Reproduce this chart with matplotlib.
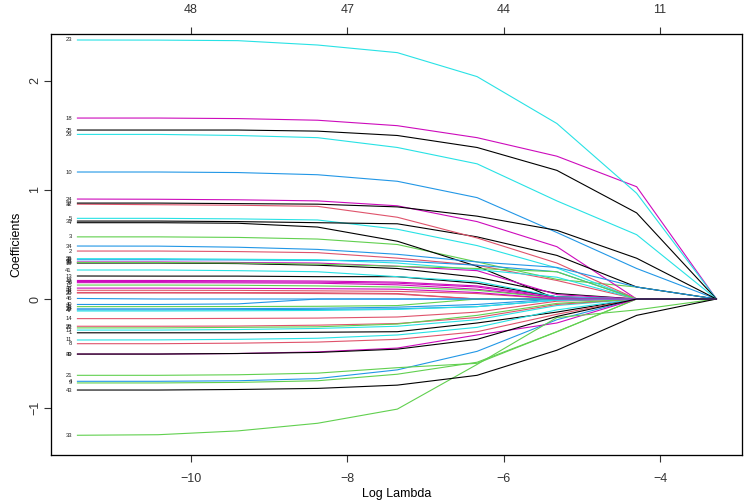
import matplotlib
matplotlib.use('Agg')
from matplotlib import pyplot as plt

# glmnet-style coefficient path, 9 lambda values
log_lambda = [-11.45, -10.42, -9.40, -8.38, -7.36, -6.34, -5.32, -4.30, -3.28]

var_labels = list(range(1, 50))
coef_paths = [
    [-0.31, -0.31, -0.31, -0.305, -0.30, -0.22, -0.12, 0, 0],       # 1
    [0.44, 0.44, 0.435, 0.425, 0.375, 0.31, 0.17, 0, 0],            # 2
    [0.57, 0.57, 0.565, 0.55, 0.50, 0.34, 0.18, 0.11, 0],           # 3
    [-0.755, -0.755, -0.75, -0.73, -0.65, -0.48, -0.19, 0, 0],      # 4
    [0.74, 0.74, 0.735, 0.725, 0.64, 0.49, 0.285, 0, 0],            # 5
    [0.15, 0.15, 0.148, 0.145, 0.13, 0.09, 0.01, 0, 0],             # 6
    [0.70, 0.70, 0.695, 0.66, 0.53, 0.30, 0, 0, 0],                 # 7
    [-0.41, -0.41, -0.405, -0.395, -0.37, -0.30, -0.14, 0, 0],      # 8
    [-0.77, -0.77, -0.765, -0.75, -0.69, -0.58, -0.30, 0, 0],       # 9
    [1.165, 1.165, 1.16, 1.14, 1.08, 0.93, 0.61, 0.28, 0],          # 10
    [-0.376, -0.375, -0.37, -0.36, -0.33, -0.26, -0.10, 0, 0],      # 11
    [0.17, 0.17, 0.168, 0.165, 0.155, 0.12, 0.02, 0, 0],            # 12
    [0.211, 0.21, 0.21, 0.205, 0.205, 0.145, 0.02, 0, 0],           # 13
    [-0.18, -0.18, -0.178, -0.175, -0.165, -0.12, -0.02, 0, 0],     # 14
    [0.128, 0.128, 0.126, 0.12, 0.11, 0.08, 0.01, 0, 0],            # 15
    [-0.09, -0.09, -0.088, -0.085, -0.075, -0.05, 0, 0, 0],         # 16
    [-0.285, -0.285, -0.28, -0.27, -0.25, -0.19, -0.06, 0, 0],      # 17
    [1.66, 1.66, 1.655, 1.64, 1.59, 1.48, 1.31, 1.03, 0],           # 18
    [0.33, 0.33, 0.325, 0.31, 0.28, 0.20, 0.05, 0, 0],              # 19
    [0.055, 0.055, 0.054, 0.05, 0.045, 0, 0, 0, 0],                 # 20
    [-0.70, -0.70, -0.695, -0.68, -0.63, -0.59, -0.30, 0, 0],       # 21
    [-0.10, -0.10, -0.098, -0.095, -0.09, -0.07, -0.01, 0, 0],      # 22
    [2.376, 2.375, 2.37, 2.33, 2.26, 2.04, 1.61, 0.97, 0],          # 23
    [0.917, 0.915, 0.91, 0.90, 0.855, 0.71, 0.48, 0, 0],            # 24
    [1.55, 1.55, 1.55, 1.54, 1.50, 1.39, 1.18, 0.79, 0],            # 25
    [-0.25, -0.25, -0.248, -0.24, -0.225, -0.17, -0.05, 0, 0],      # 26
    [-0.265, -0.265, -0.26, -0.255, -0.23, -0.15, -0.04, 0, 0],     # 27
    [0.36, 0.36, 0.358, 0.355, 0.35, 0.31, 0.25, 0, 0],             # 28
    [1.51, 1.51, 1.50, 1.48, 1.39, 1.24, 0.90, 0.59, 0],            # 29
    [-0.505, -0.505, -0.50, -0.485, -0.45, -0.33, -0.22, 0, 0],     # 30
    [0.715, 0.715, 0.71, 0.70, 0.69, 0.57, 0.40, 0.11, 0],          # 31
    [0.87, 0.865, 0.86, 0.85, 0.75, 0.56, 0.33, 0, 0],              # 32
    [-1.25, -1.245, -1.21, -1.14, -1.01, -0.60, -0.17, -0.10, 0],   # 33
    [0.486, 0.485, 0.475, 0.455, 0.41, 0.34, 0.29, 0.11, 0],        # 34
    [0.37, 0.37, 0.365, 0.36, 0.33, 0.27, 0.20, 0, 0],              # 35
    [0.34, 0.34, 0.335, 0.33, 0.30, 0.26, 0.04, 0, 0],              # 36
    [0.88, 0.88, 0.875, 0.87, 0.845, 0.76, 0.63, 0.374, 0],         # 37
    [0.06, 0.06, 0.059, 0.057, 0.05, 0, 0, 0, 0],                   # 38
    [0.335, 0.335, 0.33, 0.32, 0.30, 0.28, 0.25, 0, 0],             # 39
    [-0.05, -0.05, -0.045, 0, 0, 0, 0, 0, 0],                       # 40
    [0.266, 0.266, 0.26, 0.25, 0.205, 0.16, 0.02, 0, 0],            # 41
    [0.16, 0.16, 0.158, 0.155, 0.145, 0.11, 0.01, 0, 0],            # 42
    [-0.835, -0.835, -0.83, -0.82, -0.79, -0.70, -0.47, -0.15, 0],  # 43
    [0.08, 0.08, 0.079, 0.075, 0.07, 0.05, 0, 0, 0],                # 44
    [-0.07, -0.07, -0.069, -0.067, -0.06, 0, 0, 0, 0],              # 45
    [0.005, 0, 0, 0, 0, 0, 0, 0, 0],                                # 46
    [-0.11, -0.11, -0.108, -0.105, -0.095, -0.07, -0.01, 0, 0],     # 47
    [0.10, 0.10, 0.098, 0.095, 0.09, 0.06, 0, 0, 0],                # 48
    [-0.505, -0.505, -0.50, -0.49, -0.46, -0.37, -0.16, 0, 0],      # 49
]

bottom_ticks = [-10, -8, -6, -4]
df_labels = ['48', '47', '44', '11']

# R 4.x default palette, cycled like matplot(col=1:6)
palette = ['black', '#DF536B', '#61D04F', '#2297E6', '#28E2E5', '#CD0BBC']

plt.rcParams['font.family'] = ['Liberation Sans', 'DejaVu Sans']
fig = plt.figure(figsize=(7.44, 5.04), dpi=100)
ax = fig.add_axes([51 / 744, 49 / 504, 691 / 744, 421 / 504])

for i, (lab, path) in enumerate(zip(var_labels, coef_paths)):
    ax.plot(log_lambda, path, color=palette[i % 6], lw=0.8, solid_joinstyle='miter')
    ax.annotate(str(lab), xy=(log_lambda[0], path[0]), xytext=(-4, 0),
                textcoords='offset points', ha='right', va='center', fontsize=4.2, color='#222222')

ax.set_xlim(-11.788, -2.953)
ax.set_ylim(-1.431, 2.431)
ax.set_xticks(bottom_ticks)
ax.set_xticklabels([f'\u2212{abs(t)}' for t in bottom_ticks])
ax.set_yticks([-1, 0, 1, 2])
ax.set_yticklabels(['\u22121', '0', '1', '2'], rotation=90, va='center')
ax.tick_params(direction='out', length=5, width=0.8, labelsize=9, colors='#333333')
ax.tick_params(axis='x', pad=8)
ax.tick_params(axis='y', pad=2)
ax.set_xlabel('Log Lambda', fontsize=9, labelpad=2)
ax.set_ylabel('Coefficients', fontsize=9, labelpad=5)
for side in ['left', 'bottom', 'top', 'right']:
    ax.spines[side].set_linewidth(0.9)
    ax.spines[side].set_color('#333333')

top = ax.twiny()
top.set_xlim(ax.get_xlim())
top.set_xticks(bottom_ticks)
top.set_xticklabels(df_labels)
top.tick_params(direction='out', length=5, width=0.8, labelsize=9, pad=8, colors='#333333')

fig.savefig('out.png', dpi=100)
